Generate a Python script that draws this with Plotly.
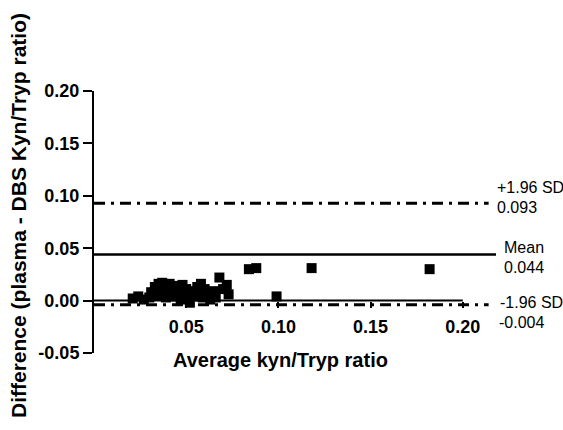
import plotly.graph_objects as go

# Data (Bland-Altman points)
avg_ratio = [0.021, 0.024, 0.027, 0.030, 0.031, 0.033, 0.034, 0.035, 0.037, 0.038,
             0.039, 0.040, 0.041, 0.043, 0.044, 0.045, 0.046, 0.047, 0.048, 0.049,
             0.050, 0.051, 0.052, 0.053, 0.055, 0.056, 0.057, 0.058, 0.059, 0.060,
             0.062, 0.063, 0.065, 0.066, 0.068, 0.070, 0.072, 0.073,
             0.084, 0.088, 0.099, 0.118, 0.182]
diff_ratio = [0.002, 0.004, 0.001, 0.003, 0.008, 0.013, 0.005, 0.016, 0.017, 0.012,
              0.003, 0.009, 0.016, 0.014, 0.004, 0.009, 0.013, 0.001, 0.015, 0.007,
              0.011, 0.003, -0.002, 0.009, 0.004, 0.013, 0.009, 0.016, 0.003, 0.011,
              0.006, 0.001, 0.009, 0.003, 0.022, 0.011, 0.015, 0.006,
              0.030, 0.031, 0.004, 0.031, 0.030]

mean_diff = 0.044
upper_loa = 0.093
lower_loa = -0.004

x_ticks = [0.05, 0.10, 0.15, 0.20]
x_labels = ["0.05", "0.10", "0.15", "0.20"]
y_ticks = [-0.05, 0.00, 0.05, 0.10, 0.15, 0.20]
y_labels = ["-0.05", "0.00", "0.05", "0.10", "0.15", "0.20"]

XMAX = 0.218
FONT = "Liberation Sans, Arial, sans-serif"

fig = go.Figure()

fig.add_trace(go.Scatter(x=[0, XMAX], y=[mean_diff, mean_diff], mode="lines",
                         line=dict(color="black", width=2.5), hoverinfo="skip"))
for v in (upper_loa, lower_loa):
    fig.add_trace(go.Scatter(x=[0, 0.214], y=[v, v], mode="lines",
                             line=dict(color="black", width=3, dash="11px,6px,3px,6px"),
                             hoverinfo="skip"))

fig.add_trace(go.Scatter(x=avg_ratio, y=diff_ratio, mode="markers",
                         marker=dict(symbol="square", size=10, color="black",
                                     line=dict(width=0))))

# x axis line at y = 0 from 0 to 0.20
fig.add_shape(type="line", x0=0, x1=0.20, y0=0, y1=0, xref="x", yref="y",
              line=dict(color="black", width=2))

fig.update_layout(
    width=563, height=430,
    margin=dict(l=94, r=67, t=91, b=77),
    paper_bgcolor="white", plot_bgcolor="white",
    showlegend=False,
    font=dict(family=FONT, color="black"),
    xaxis=dict(range=[0, XMAX], tickvals=x_ticks, ticktext=x_labels,
               showgrid=False, zeroline=False, showline=False,
               anchor="free", position=0.2,
               ticks="outside", ticklen=6, tickwidth=2, tickcolor="black",
               ticklabelstandoff=4,
               tickfont=dict(family=FONT, size=18, weight="bold")),
    yaxis=dict(range=[-0.05, 0.20], tickvals=y_ticks, ticktext=y_labels,
               showgrid=False, zeroline=False, showline=True, linewidth=2,
               linecolor="black",
               ticks="outside", ticklen=9, tickwidth=2, tickcolor="black",
               tickfont=dict(family=FONT, size=18, weight="bold")),
)

annos = [
    dict(text="Average kyn/Tryp ratio", x=0.1014, y=-0.027, xref="x", yref="paper",
         xanchor="center", yanchor="middle", font=dict(size=20, weight="bold")),
    dict(text="Difference (plasma - DBS Kyn/Tryp ratio)", x=(19 - 94) / 402, y=0.523,
         xref="paper", yref="paper", textangle=-90, xanchor="center", yanchor="middle",
         font=dict(size=21, weight="bold")),
    dict(text="+1.96 SD", px=495, py=187),
    dict(text="0.093", px=495, py=207),
    dict(text="Mean", px=502, py=247),
    dict(text="0.044", px=502, py=267),
    dict(text="-1.96 SD", px=498, py=302),
    dict(text="-0.004", px=497, py=322),
]
for a in annos:
    if "px" in a:
        fig.add_annotation(text=a["text"], x=(a["px"] - 94) / 402, y=(353 - a["py"]) / 262,
                           xref="paper", yref="paper", xanchor="left", yanchor="middle",
                           showarrow=False, font=dict(size=16, family=FONT))
    else:
        fig.add_annotation(showarrow=False, **a)

fig.write_html("out.html")
